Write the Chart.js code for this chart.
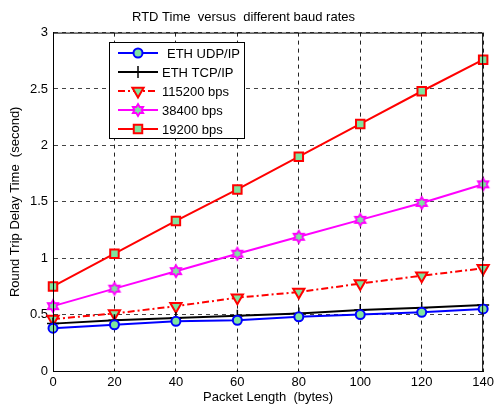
<!DOCTYPE html>
<html>
<head>
<meta charset="utf-8">
<script src="https://cdn.jsdelivr.net/npm/chart.js@4"></script>
<style>
  html, body { margin: 0; padding: 0; background: #fff; }
  #wrap { width: 498px; height: 405px; position: relative; }
</style>
</head>
<body>
<div id="wrap"><canvas id="rtdChart"></canvas></div>
<script>
// packet length (bytes)
const packetLengths = [0, 20, 40, 60, 80, 100, 120, 140];
// round trip delay (s)
const ethUdp   = [0.38, 0.41, 0.44, 0.45, 0.48, 0.50, 0.52, 0.55];
const ethTcp   = [0.42, 0.45, 0.47, 0.49, 0.51, 0.54, 0.56, 0.585];
const baud115k = [0.46, 0.51, 0.575, 0.65, 0.70, 0.775, 0.845, 0.91];
const baud38k  = [0.575, 0.73, 0.885, 1.04, 1.19, 1.34, 1.49, 1.655];
const baud19k  = [0.75, 1.04, 1.33, 1.61, 1.90, 2.19, 2.48, 2.76];
const yTicks = [0, 0.5, 1, 1.5, 2, 2.5, 3];

const FONT = 'Liberation Sans, Arial, sans-serif';
const FILL = '#7fe49f';

// hexagram marker like matlab 'h'
function hexagram(color, r) {
    const c = document.createElement('canvas');
    const s = Math.ceil(r * 2 + 4);
    c.width = s; c.height = s;
    const g = c.getContext('2d');
    g.translate(s / 2, s / 2);
    g.strokeStyle = color;
    g.lineWidth = 1.8;
    g.beginPath();
    for (let i = 0; i < 12; i++) {
        const a = -Math.PI / 2 + i * Math.PI / 6;
        const rr = (i % 2 === 0) ? r : r * 0.58;
        const px = Math.cos(a) * rr, py = Math.sin(a) * rr;
        if (i === 0) g.moveTo(px, py); else g.lineTo(px, py);
    }
    g.closePath();
    g.fillStyle = FILL;
    g.fill();
    g.stroke();
    return c;
}

document.addEventListener('DOMContentLoaded', function(){
    const ctx = document.getElementById('rtdChart').getContext('2d');

    // frame + legend box inside the plot, matlab style
    function drawExtras(chart) {
        const a = chart.chartArea;
        const c = chart.ctx;
        c.save();
        c.strokeStyle = '#000';
        c.lineWidth = 1;
        c.setLineDash([]);
        c.strokeRect(a.left + 0.5, a.top + 0.5, a.right - a.left - 1, a.bottom - a.top);

        // legend
        const bx = 109, by = 42, bw = 135, bh = 96;
        c.fillStyle = '#fff';
        c.fillRect(bx, by, bw, bh);
        c.strokeRect(bx + 0.5, by + 0.5, bw, bh);
        c.font = '13px ' + FONT;
        c.textBaseline = 'middle';
        chart.data.datasets.forEach((ds, i) => {
            const y = by + 11 + i * 19;
            c.save();
            c.strokeStyle = ds.borderColor;
            c.lineWidth = ds.borderWidth;
            c.setLineDash(ds.borderDash || []);
            c.beginPath();
            c.moveTo(bx + 9, y);
            c.lineTo(bx + 49, y);
            c.stroke();
            c.restore();
            c.save();
            c.fillStyle = ds.pointBackgroundColor || 'rgba(0,0,0,0)';
            c.strokeStyle = ds.pointBorderColor;
            c.lineWidth = ds.pointBorderWidth || 1;
            Chart.helpers.drawPoint(c, {
                pointStyle: ds.pointStyle,
                rotation: ds.pointRotation || 0,
                radius: ds.pointRadius,
                borderWidth: ds.pointBorderWidth || 1
            }, bx + 29, y);
            c.restore();
            c.fillStyle = '#000';
            c.fillText(ds.label, bx + (i === 0 ? 58 : 53), y + 1);
        });
        c.restore();
    }

    const datasets = [
        { label: 'ETH UDP/IP', data: ethUdp, borderColor: '#0000ff', borderWidth: 2,
          pointStyle: 'circle', pointRadius: 4.5, pointBackgroundColor: FILL, pointBorderColor: '#0000ff', pointBorderWidth: 2 },
        { label: 'ETH TCP/IP', data: ethTcp, borderColor: '#000', borderWidth: 2,
          pointStyle: 'cross', pointRadius: 6, pointBorderColor: '#000', pointBorderWidth: 1.5 },
        { label: '115200 bps', data: baud115k, borderColor: '#ff0000', borderWidth: 2, borderDash: [7, 3, 2, 3],
          pointStyle: 'triangle', pointRotation: 180, pointRadius: 6.5, pointBackgroundColor: FILL, pointBorderColor: '#ff0000', pointBorderWidth: 2 },
        { label: '38400 bps', data: baud38k, borderColor: '#ff00ff', borderWidth: 2,
          pointStyle: hexagram('#ff00ff', 6), pointRadius: 6, pointBorderColor: '#ff00ff' },
        { label: '19200 bps', data: baud19k, borderColor: '#ff0000', borderWidth: 2,
          pointStyle: 'rect', pointRadius: 6, pointBackgroundColor: FILL, pointBorderColor: '#ff0000', pointBorderWidth: 2 }
    ].map(d => Object.assign({ clip: false }, d));

    new Chart(ctx, {
        type: 'line',
        data: { labels: packetLengths, datasets: datasets },
        options: {
            responsive: true,
            maintainAspectRatio: false,
            animation: false,
            layout: { padding: { top: 0, right: 11, left: 0, bottom: 0 } },
            elements: { line: { tension: 0 } },
            scales: {
                x: {
                    type: 'linear',
                    min: 0, max: 140,
                    afterFit: s => { s.height = 34; },
                    grid: { color: '#222', drawTicks: false, lineWidth: 1 },
                    border: { display: true, color: '#000', dash: [4, 4] },
                    ticks: { stepSize: 20, color: '#000', padding: 4, font: { family: FONT, size: 13 } },
                    title: { display: true, text: 'Packet Length  (bytes)', color: '#000',
                             padding: { top: 0, bottom: 0 }, font: { family: FONT, size: 13 } }
                },
                y: {
                    min: 0, max: 3,
                    afterFit: s => { s.width = 53; },
                    afterBuildTicks: s => { s.ticks = yTicks.map(v => ({ value: v })); },
                    grid: { color: '#444', drawTicks: false, lineWidth: 1 },
                    border: { display: true, color: '#000', dash: [4, 4] },
                    ticks: { color: '#000', padding: 5, font: { family: FONT, size: 13 },
                             callback: v => String(v) },
                    title: { display: true, text: 'Round Trip Delay Time  (second)', color: '#000',
                             padding: { top: 8, bottom: 4 }, font: { family: FONT, size: 13 } }
                }
            },
            plugins: {
                legend: { display: false },
                tooltip: { enabled: false },
                title: {
                    display: true,
                    text: 'RTD Time  versus  different baud rates',
                    color: '#000',
                    font: { family: FONT, size: 13, weight: 'normal' },
                    padding: { top: 10, bottom: 7 }
                }
            }
        },
        plugins: [{ id: 'matlabBits', afterDraw: drawExtras }]
    });
});
</script>
</body>
</html>
